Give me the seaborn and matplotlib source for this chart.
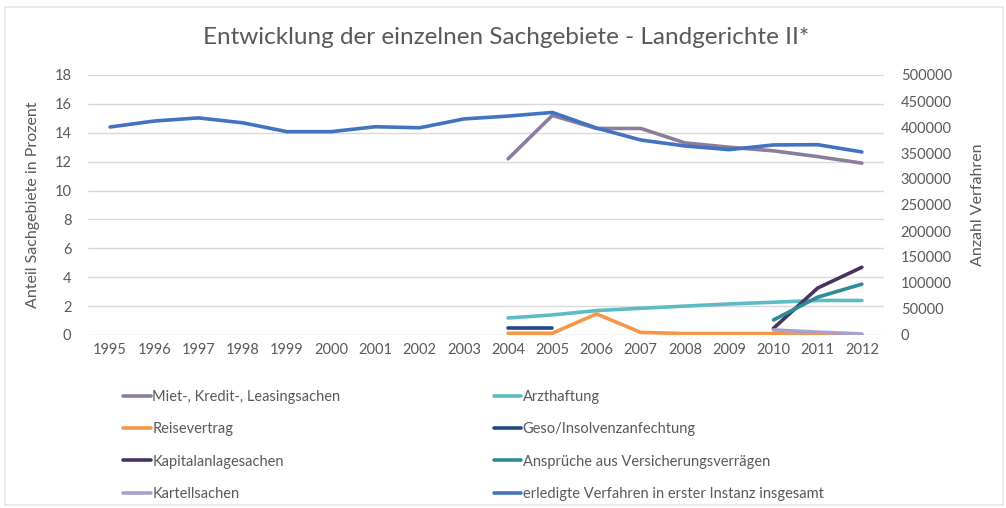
import numpy as np
import pandas as pd
import matplotlib
matplotlib.use("Agg")
import matplotlib.pyplot as plt
import seaborn as sns
from matplotlib.patches import Rectangle

years = [str(y) for y in range(1995, 2013)]
nan = np.nan

miet = [nan]*9 + [12.2, 15.2, 14.3, 14.3, 13.3, 13.0, 12.75, 12.35, 11.9]
arzt = [nan]*9 + [1.18, 1.39, 1.69, 1.85, 2.0, 2.15, 2.27, 2.39, 2.39]
reise = [nan]*9 + [0.12, 0.12, 1.46, 0.18, 0.1, 0.1, 0.1, 0.06, 0.03]
geso = [nan]*9 + [0.49, 0.49] + [nan]*7
kapital = [nan]*15 + [0.46, 3.25, 4.69]
versich = [nan]*15 + [1.04, 2.62, 3.52]
kartell = [nan]*15 + [0.35, 0.2, 0.07]
total = [400000, 411500, 417500, 408000, 391000, 391000, 400500, 398500,
         415500, 421000, 428000, 398000, 375000, 363500, 356500, 365500,
         366000, 352000]

left_series = [
    ("Miet-, Kredit-, Leasingsachen", miet, "#8c7d9c"),
    ("Arzthaftung", arzt, "#5bbcc4"),
    ("Reisevertrag", reise, "#f79646"),
    ("Geso/Insolvenzanfechtung", geso, "#24497e"),
    ("Kapitalanlagesachen", kapital, "#46345e"),
    ("Ansprüche aus Versicherungsverrägen", versich, "#2e8a96"),
    ("Kartellsachen", kartell, "#a9a0cf"),
]
total_label = "erledigte Verfahren in erster Instanz insgesamt"
total_color = "#4272c0"

sns.set_theme(style="white")
plt.rcParams["font.family"] = ["Lato", "DejaVu Sans"]
txt = "#595959"

fig = plt.figure(figsize=(10.06, 5.08), dpi=100)
ax = fig.add_axes([88/1006, 1-335/508, (884-88)/1006, (335-75)/508])
ax2 = ax.twinx()

x = np.arange(len(years))
handles = {}
for name, vals, col in left_series:
    df = pd.DataFrame({"x": x, "y": vals})
    sns.lineplot(data=df, x="x", y="y", ax=ax, color=col, linewidth=2.6, label=name, legend=False)
    handles[name] = ax.get_lines()[-1]
dft = pd.DataFrame({"x": x, "y": total})
sns.lineplot(data=dft, x="x", y="y", ax=ax2, color=total_color, linewidth=2.6, legend=False)
handles[total_label] = ax2.get_lines()[-1]

ax.set_xlim(-0.5, 17.5)
ax.set_ylim(0, 18)
ax.set_yticks(np.arange(0, 19, 2))
ax2.set_ylim(0, 500000)
ax2.set_yticks(np.arange(0, 500001, 50000))
ax.set_xticks(x)
ax.set_xticklabels(years)
ax.grid(axis="y", color="#d9d9d9", linewidth=1)
ax.set_axisbelow(True)
for a in (ax, ax2):
    for s in a.spines.values():
        s.set_visible(False)
    a.tick_params(length=0, colors=txt, labelsize=10.5)
ax.tick_params(axis="y", pad=12)
ax.tick_params(axis="x", pad=6)
ax2.tick_params(axis="y", pad=12)
ax.set_xlabel("")
ax.set_ylabel("Anteil Sachgebiete in Prozent", color=txt, fontsize=11.5, labelpad=10)
ax2.set_ylabel("Anzahl Verfahren", color=txt, fontsize=11.5, labelpad=14)
fig.text(506/1006, 1-38/508, "Entwicklung der einzelnen Sachgebiete - Landgerichte II*",
         color=txt, fontsize=17.5, ha="center", va="center")

order = [left_series[0][0], left_series[1][0], left_series[2][0], left_series[3][0],
         left_series[4][0], left_series[5][0], left_series[6][0], total_label]
# column-major legend: col1 = miet, reise, kapital, kartell; col2 = arzt, geso, versich, total
col_order = [order[0], order[2], order[4], order[6], order[1], order[3], order[5], order[7]]
leg = fig.legend([handles[n] for n in col_order], col_order, ncol=2,
                 loc="upper left", bbox_to_anchor=(110/1006, 1-377/508),
                 frameon=False, fontsize=10.5, labelcolor=txt, handlelength=1.9,
                 handletextpad=0.1, labelspacing=1.25, columnspacing=10.5)

fig.patches.append(Rectangle((5/1006, 3/508), 998/1006, 498/508, transform=fig.transFigure,
                             fill=False, edgecolor="#e6e6e6", linewidth=1.2))
fig.savefig("out.png", dpi=100, facecolor="white")
